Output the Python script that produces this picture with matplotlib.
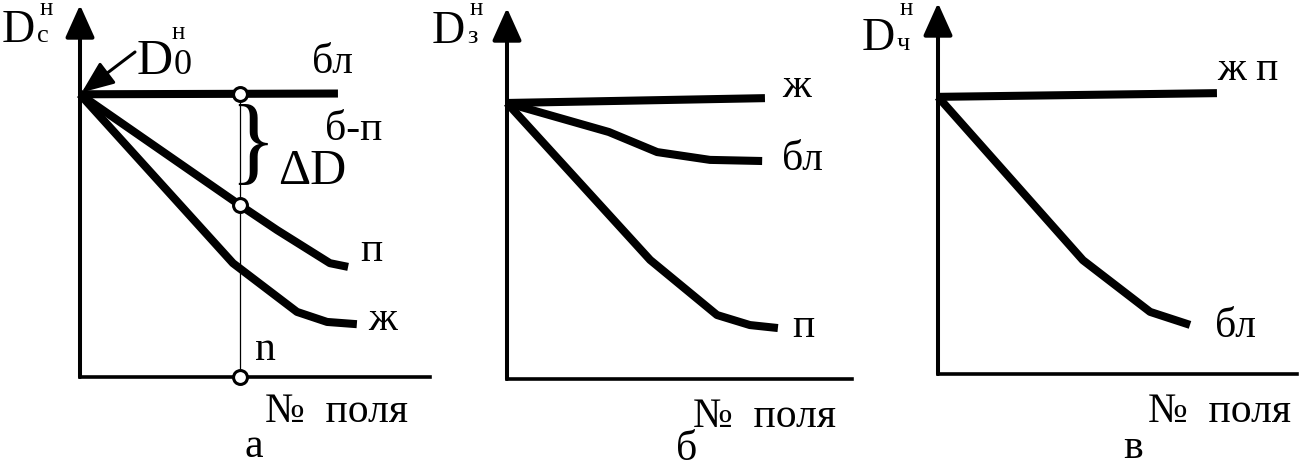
"""Three schematic panels: normalised D vs field number (а, б, в)."""

import matplotlib

matplotlib.use("Agg")

import matplotlib.pyplot as plt
import numpy as np

plt.rcParams["font.family"] = ["Liberation Serif", "DejaVu Serif"]

# --- data (arbitrary units, origin at the axes corner) ---
# panel а
a_bl_x = [0.0, 7.37]
a_bl_y = [7.60, 7.62]
a_p_x = [0.0, 4.57, 5.63, 7.14, 7.66]
a_p_y = [7.60, 4.62, 3.95, 3.06, 2.96]
a_zh_x = [0.0, 4.37, 6.20, 7.06, 7.91]
a_zh_y = [7.60, 3.06, 1.75, 1.48, 1.42]
a_n = 4.57  # field number n

# panel б
b_zh_x = [0.0, 7.37]
b_zh_y = [7.42, 7.55]
b_bl_x = [0.0, 2.91, 4.29, 5.80, 7.29]
b_bl_y = [7.42, 6.64, 6.10, 5.89, 5.86]
b_p_x = [0.0, 4.09, 6.00, 6.94, 7.74]
b_p_y = [7.42, 3.20, 1.72, 1.45, 1.37]

# panel в
c_zhp_x = [0.0, 7.97]
c_zhp_y = [7.45, 7.55]
c_bl_x = [0.0, 4.14, 6.06, 7.20]
c_bl_y = [7.45, 3.06, 1.67, 1.32]

W, H = 1304, 468
PX_X, PX_Y = 35.0, 37.2  # pixels per data unit
LW = 5.8
LAB = 30  # curve label size

fig = plt.figure(figsize=(W / 100, H / 100), dpi=100)


def make_panel(x0, y0, right, top):
    ax = fig.add_axes([x0 / W, 1 - y0 / H, (right - x0) / W, (y0 - top) / H])
    ax.set_xlim(0, (right - x0) / PX_X)
    ax.set_ylim(0, (y0 - top) / PX_Y)
    for s in ("top", "right", "left"):
        ax.spines[s].set_visible(False)
    ax.spines["bottom"].set_linewidth(2.6)
    ax.set_xticks([])
    ax.set_yticks([])
    ax.patch.set_alpha(0)
    # y axis with arrow head
    ax.annotate("", xy=(0, 1), xytext=(0, 0), xycoords="axes fraction",
                arrowprops=dict(arrowstyle="-|>,head_length=1.0,head_width=0.45",
                                mutation_scale=20, lw=2.9, color="black",
                                shrinkA=0, shrinkB=0),
                annotation_clip=False)
    return ax


def curve(ax, x, y):
    ax.plot(x, y, color="black", lw=LW, solid_capstyle="butt",
            solid_joinstyle="round", clip_on=False)


def ptext(x, y, s, size, ha="left", va="baseline"):
    fig.text(x / W, 1 - y / H, s, fontsize=size, ha=ha, va=va)


def dlabel(x, y, sub, sup_y):
    ptext(x, y, "D", 33)
    ptext(x + 35, y, sub, 19)
    ptext(x + 38, sup_y, "н", 18)


# panel а
ax_a = make_panel(80, 377, 430, 5)
curve(ax_a, a_bl_x, a_bl_y)
curve(ax_a, a_p_x, a_p_y)
curve(ax_a, a_zh_x, a_zh_y)
y_bl_n = np.interp(a_n, a_bl_x, a_bl_y)
y_p_n = np.interp(a_n, a_p_x, a_p_y)
ax_a.plot([a_n, a_n], [0, y_bl_n], color="black", lw=0.9, zorder=3)
ax_a.plot([a_n, a_n, a_n], [y_bl_n, y_p_n, 0], ls="none", marker="o",
          ms=10, mfc="white", mec="black", mew=2.2, zorder=5, clip_on=False)
ax_a.annotate("", xy=(0.05, a_bl_y[0] + 0.05), xytext=(135 / W, 1 - 52 / H),
              textcoords="figure fraction",
              arrowprops=dict(arrowstyle="-|>,head_length=1.1,head_width=0.45",
                              mutation_scale=18, lw=2.2, color="black",
                              shrinkA=0, shrinkB=0))

dlabel(2, 42, "с", 15)
ptext(137, 74, "D", 36)
ptext(174, 74, "0", 26)
ptext(172, 39, "н", 18)
ptext(312, 73, "бл", LAB)
ptext(325, 140, "б-п", LAB)
ptext(253, 149, "}", 70, ha="center", va="center")
ptext(278, 184, "ΔD", 36)
ptext(360, 261, "п", LAB)
ptext(368, 330, "ж", LAB)
ptext(255, 360, "n", LAB)
ptext(265, 422, "№  поля", LAB)
ptext(254, 457, "а", 30, ha="center")

# panel б
ax_b = make_panel(507, 379, 852, 8)
curve(ax_b, b_zh_x, b_zh_y)
curve(ax_b, b_bl_x, b_bl_y)
curve(ax_b, b_p_x, b_p_y)
dlabel(432, 43, "з", 15)
ptext(782, 97, "ж", LAB)
ptext(782, 170, "бл", LAB)
ptext(792, 337, "п", LAB)
ptext(693, 427, "№  поля", LAB)
ptext(687, 460, "б", 30, ha="center")

# panel в
ax_c = make_panel(938, 374, 1297, 3)
curve(ax_c, c_zhp_x, c_zhp_y)
curve(ax_c, c_bl_x, c_bl_y)
dlabel(862, 50, "ч", 15)
ptext(1217, 80, "ж п", LAB)
ptext(1215, 337, "бл", LAB)
ptext(1148, 422, "№  поля", LAB)
ptext(1133, 458, "в", 30, ha="center")

fig.savefig("out.png", dpi=100)
plt.close(fig)
